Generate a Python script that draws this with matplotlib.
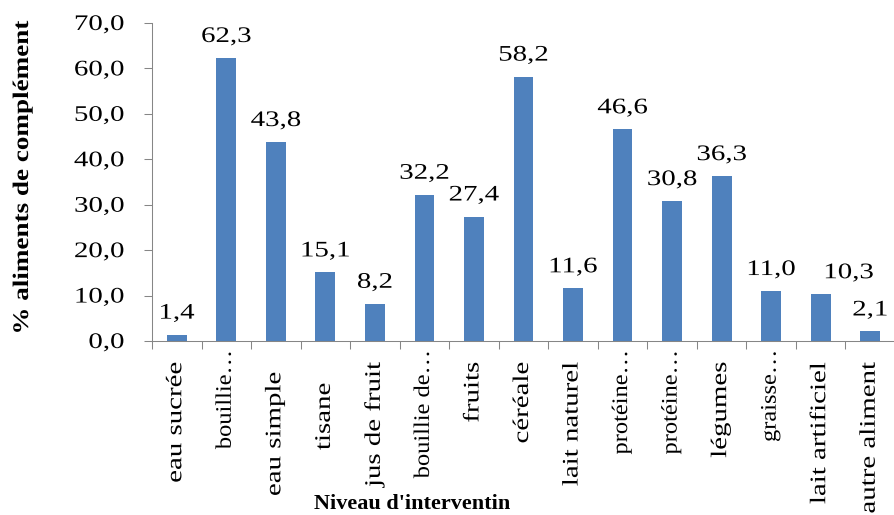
"""Bar chart: share of complementary foods by type, Excel-style look."""
import matplotlib
matplotlib.use("Agg")

import numpy as np
import matplotlib.pyplot as plt
from matplotlib.patheffects import AbstractPathEffect
from matplotlib.transforms import Affine2D

categories = [
    "eau sucrée", "bouillie…", "eau simple", "tisane", "jus de fruit",
    "bouillie de…", "fruits", "céréale", "lait naturel", "protéine…",
    "protéine…", "légumes", "graisse…", "lait artificiel", "autre aliment",
]
values = [1.4, 62.3, 43.8, 15.1, 8.2, 32.2, 27.4, 58.2, 11.6, 46.6,
          30.8, 36.3, 11.0, 10.3, 2.1]
y_ticks = [0, 10, 20, 30, 40, 50, 60, 70]

x_title = "Niveau d'interventin"
y_title = "% aliments de complément"

BAR = "#4F81BD"
AXIS = "#868686"
FONT = "Liberation Serif"
PX = 72 / 100  # points per pixel at 100 dpi

# category labels: truncated names sit right under the axis, the rest a bit lower
# (extra drop in pixels for the two that carry trailing blanks)
extra_drop = {2: 10, 3: 21}
# value label that was pushed sideways to clear its neighbour (pixels)
value_shift = {13: 28}


class Widen(AbstractPathEffect):
    """Stretch text glyphs along the reading direction, pinned at one end or the middle."""

    def __init__(self, factor, anchor="center"):
        super().__init__()
        self.factor = factor
        self.anchor = anchor

    def draw_path(self, renderer, gc, tpath, affine, rgbFace=None):
        ext = tpath.get_extents()
        x0 = {"left": ext.x0, "center": 0.5 * (ext.x0 + ext.x1), "right": ext.x1}[self.anchor]
        widen = Affine2D().translate(-x0, 0).scale(self.factor, 1).translate(x0, 0)
        renderer.draw_path(gc, tpath, widen + affine, rgbFace)


def comma(v):
    return f"{v:.1f}".replace(".", ",")


plt.rcParams["font.family"] = [FONT, "DejaVu Serif"]

fig = plt.figure(figsize=(8.94, 5.15), dpi=100)
ax = fig.add_axes([0.1700, 0.3379, 0.8311, 0.6175])

x = np.arange(len(categories))
ax.bar(x, values, width=0.4, color=BAR, zorder=2)

ax.set_xlim(-0.5, len(categories) - 0.5)
ax.set_ylim(y_ticks[0], y_ticks[-1])

# value labels above each bar
for i, (xi, v) in enumerate(zip(x, values)):
    ax.annotate(comma(v), xy=(xi, v),
                xytext=(value_shift.get(i, 0) * PX, 11.5), textcoords="offset points",
                ha="center", va="baseline", fontsize=16,
                path_effects=[Widen(1.3, "center")])

# y axis
ax.set_yticks(y_ticks, [comma(t) for t in y_ticks])
ax.tick_params(axis="y", length=5.5, width=0.75, color=AXIS, pad=14.5, labelsize=16)
for lbl in ax.get_yticklabels():
    lbl.set_path_effects([Widen(1.3, "right")])

# x axis: tick marks between categories, names written under each bar
ax.set_xticks(np.arange(-0.5, len(categories), 1))
ax.tick_params(axis="x", length=6, width=0.75, color=AXIS, labelbottom=False)
for i, (xi, name) in enumerate(zip(x, categories)):
    truncated = name.endswith("…")
    drop = (9 if truncated else 21) + extra_drop.get(i, 0)
    ax.annotate(name, xy=(xi, 0), xytext=(0, -drop * PX), textcoords="offset points",
                rotation=90, ha="center", va="top", fontsize=16, annotation_clip=False,
                path_effects=[Widen(1.1 if truncated else 1.3, "right")])

for side in ("top", "right"):
    ax.spines[side].set_visible(False)
for side in ("left", "bottom"):
    ax.spines[side].set_color(AXIS)
    ax.spines[side].set_linewidth(0.75)
    ax.spines[side].set_zorder(3)

ax.set_ylabel(y_title, fontsize=16, fontweight="bold", va="center")
ax.yaxis.set_label_coords(-0.1736, 0.5157)
ax.yaxis.label.set_path_effects([Widen(1.22, "center")])

ax.set_xlabel(x_title, fontsize=16, fontweight="bold", va="baseline")
ax.xaxis.set_label_coords(0.35, -0.528)

fig.savefig("out.png", dpi=100)
